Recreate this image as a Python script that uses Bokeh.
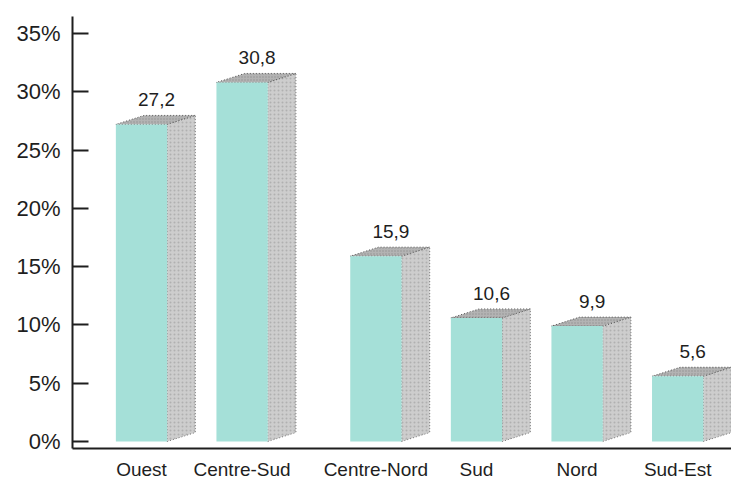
import numpy as np
from bokeh.plotting import figure
from bokeh.models import Range1d, FixedTicker, PrintfTickFormatter
from bokeh.core.properties import value
from bokeh.embed import file_html
from bokeh.resources import INLINE

# Regional shares (%)
categories = ["Ouest", "Centre-Sud", "Centre-Nord", "Sud", "Nord", "Sud-Est"]
shares = [27.2, 30.8, 15.9, 10.6, 9.9, 5.6]
y_ticks = [0, 5, 10, 15, 20, 25, 30, 35]

# Column slots: a wider gap separates the first two columns from the rest
n = len(categories)
slots = [i + (0.33 if i >= 2 else 0.0) for i in range(n)]

BAR_W = 0.51      # width of the front face (x units)
DEPTH_X = 0.28    # horizontal depth of the 3D extrusion (x units)
DEPTH_Y = 0.77    # vertical rise of the 3D extrusion (y units)

FONT = "Liberation Sans"
INK = "#1e1e1e"
FRONT = "#a5e0d8"
SIDE = "#cdcdcd"
TOP = "#b3b3b3"

p = figure(
    width=731, height=482,
    x_range=Range1d(-0.686, 5.865),
    y_range=Range1d(-0.6, 36.455),
    output_backend="svg", toolbar_location=None,
    min_border_left=72, min_border_right=0,
    min_border_top=16, min_border_bottom=33,
    background_fill_color="white", border_fill_color="white",
)
p.outline_line_color = None
p.grid.visible = False

# 3D extrusion: side faces and top faces
half = BAR_W / 2
side_xs = [[s + half, s + half + DEPTH_X, s + half + DEPTH_X, s + half] for s in slots]
side_ys = [[0, DEPTH_Y, v + DEPTH_Y, v] for v in shares]
top_xs = [[s - half, s + half, s + half + DEPTH_X, s - half + DEPTH_X] for s in slots]
top_ys = [[v, v, v + DEPTH_Y, v + DEPTH_Y] for v in shares]

p.patches(side_xs, side_ys, fill_color=SIDE, line_color="#777777",
          line_dash="1 2", line_width=1,
          hatch_pattern=".", hatch_color="#9c9c9c", hatch_scale=4, hatch_alpha=0.6)
p.patches(top_xs, top_ys, fill_color=TOP, line_color="#555555",
          line_dash="1 2", line_width=1,
          hatch_pattern=".", hatch_color="#7a7a7a", hatch_scale=3, hatch_alpha=0.6)

# Front faces
p.vbar(x=slots, bottom=0, top=shares, width=BAR_W,
       fill_color=FRONT, line_color=None)

# Value labels above each column
labels = [f"{v:.1f}".replace(".", ",") for v in shares]
p.text(x=slots, y=[v + DEPTH_Y for v in shares], text=labels,
       x_offset=15, y_offset=-9,
       text_align="center", text_baseline="bottom",
       text_font=value(FONT), text_font_size="19px", text_color=INK)

# Y axis: percent ticks pointing inward
p.yaxis.ticker = FixedTicker(ticks=y_ticks)
p.yaxis.formatter = PrintfTickFormatter(format="%d%%")
p.yaxis.major_tick_in = 16
p.yaxis.major_tick_out = 0
p.yaxis.minor_tick_line_color = None
p.yaxis.major_label_standoff = 12
p.yaxis.axis_line_width = 2
p.yaxis.axis_line_color = INK
p.yaxis.major_tick_line_width = 2
p.yaxis.major_tick_line_color = INK
p.yaxis.major_label_text_font = FONT
p.yaxis.major_label_text_font_size = "22px"
p.yaxis.major_label_text_color = INK

# X axis: region names under each column
p.xaxis.ticker = FixedTicker(ticks=slots)
p.xaxis.major_label_overrides = {s: c for s, c in zip(slots, categories)}
p.xaxis.major_tick_in = 0
p.xaxis.major_tick_out = 0
p.xaxis.minor_tick_line_color = None
p.xaxis.major_label_standoff = 10
p.xaxis.axis_line_width = 2
p.xaxis.axis_line_color = INK
p.xaxis.major_label_text_font = FONT
p.xaxis.major_label_text_font_size = "19px"
p.xaxis.major_label_text_color = INK

open("out.html", "w").write(file_html(p, INLINE))
